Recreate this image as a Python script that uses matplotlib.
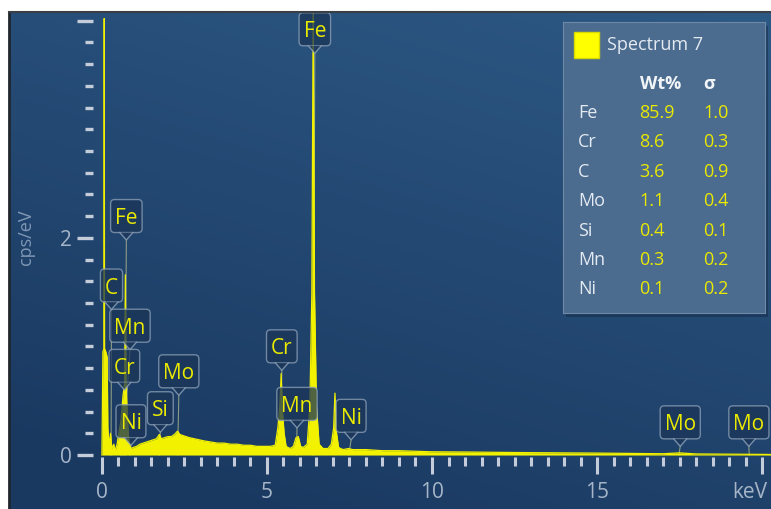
import numpy as np
import matplotlib.pyplot as plt
import matplotlib.transforms as mtransforms
from matplotlib.patches import Rectangle, Polygon, FancyBboxPatch
from matplotlib.lines import Line2D
from matplotlib.colors import to_rgb

plt.rcParams['font.family'] = ['Open Sans', 'DejaVu Sans']

# EDS spectrum, read point by point (keV, cps/eV)
energy = [0.00, 0.01, 0.03, 0.06, 0.07, 0.08, 0.12, 0.16, 0.18, 0.22, 0.26, 0.30,
          0.36, 0.40, 0.46, 0.52, 0.58, 0.64, 0.69, 0.71, 0.73, 0.78, 0.82, 0.88,
          0.95, 1.05, 1.15, 1.25, 1.35, 1.45, 1.55, 1.65, 1.74, 1.80, 1.90, 2.00,
          2.10, 2.20, 2.29, 2.36, 2.45, 2.55, 2.65, 2.80, 2.95, 3.10, 3.30, 3.50,
          3.70, 3.90, 4.10, 4.30, 4.50, 4.70, 4.90, 5.10, 5.25, 5.33, 5.39, 5.43,
          5.47, 5.52, 5.58, 5.70, 5.80, 5.88, 5.95, 6.02, 6.10, 6.22, 6.30, 6.36,
          6.40, 6.44, 6.50, 6.58, 6.70, 6.85, 6.95, 7.02, 7.06, 7.10, 7.17, 7.30,
          7.47, 7.60, 8.00, 8.50, 9.00, 9.50, 10.0, 11.0, 12.0, 13.0, 14.0, 15.0,
          16.0, 17.0, 17.5, 18.0, 19.0, 20.0, 20.3]
cps = [0.00, 0.30, 0.95, 0.98, 4.02, 0.98, 0.95, 0.90, 0.25, 0.08, 0.20, 0.06,
       0.10, 0.04, 0.10, 0.22, 0.32, 0.55, 0.66, 1.66, 0.66, 0.30, 0.12, 0.06,
       0.07, 0.08, 0.10, 0.11, 0.12, 0.13, 0.14, 0.15, 0.19, 0.15, 0.16, 0.17,
       0.17, 0.19, 0.22, 0.19, 0.18, 0.17, 0.16, 0.15, 0.14, 0.13, 0.12, 0.11,
       0.11, 0.10, 0.10, 0.09, 0.09, 0.08, 0.08, 0.08, 0.09, 0.25, 0.45, 0.75,
       0.40, 0.20, 0.08, 0.06, 0.08, 0.16, 0.17, 0.08, 0.07, 0.10, 0.45, 1.50,
       4.10, 1.50, 0.45, 0.10, 0.06, 0.06, 0.10, 0.25, 0.57, 0.22, 0.07, 0.05,
       0.06, 0.05, 0.05, 0.04, 0.04, 0.035, 0.03, 0.028, 0.025, 0.022, 0.02, 0.018,
       0.015, 0.012, 0.02, 0.01, 0.008, 0.006, 0.005]

# peak identification labels
peak_labels = ['Fe', 'Fe', 'C', 'Mn', 'Cr', 'Ni', 'Si', 'Mo', 'Cr', 'Mn', 'Ni', 'Mo', 'Mo']
peak_energy = [6.40, 0.705, 0.277, 0.637, 0.573, 0.851, 1.740, 2.293, 5.414, 5.899,
               7.478, 17.48, 19.61]
# label placement: box centre (keV) and tip of the pointer (cps/eV)
label_x = [6.45, 0.74, 0.29, 0.85, 0.68, 0.88, 1.77, 2.33, 5.45, 5.91, 7.55, 17.52, 19.60]
label_y = [3.70, 1.98, 1.34, 0.97, 0.60, 0.09, 0.21, 0.55, 0.78, 0.25, 0.14, 0.08, 0.08]

# quantification result
elements = ['Fe', 'Cr', 'C', 'Mo', 'Si', 'Mn', 'Ni']
wt_pct = [85.9, 8.6, 3.6, 1.1, 0.4, 0.3, 0.1]
sigma = [1.0, 0.3, 0.9, 0.4, 0.1, 0.2, 0.2]

yellow = '#f2f200'
tick_col = '#c3ccd8'
text_col = '#a6b5c8'

fig = plt.figure(figsize=(7.71, 5.09), dpi=100, facecolor='white')
renderer = fig.canvas.get_renderer()

# panel background gradient
bg = fig.add_axes([9 / 771, 0, 762 / 771, 497 / 509], zorder=-2)
xx, yy = np.meshgrid(np.linspace(0, 1, 200), np.linspace(0, 1, 150))
t = np.clip(0.75 * (1 - yy) + 0.35 * xx - 0.1, 0, 1)[..., None]
dark, light = np.array(to_rgb('#1a3961')), np.array(to_rgb('#2d5985'))
bg.imshow(dark + t * (light - dark), aspect='auto', extent=[0, 1, 0, 1])
bg.set_axis_off()
fig.add_artist(Line2D([9 / 771, 9 / 771], [0, 497 / 509], color='#20262d', lw=2))
fig.add_artist(Line2D([9 / 771, 1], [497 / 509, 497 / 509], color='#3a3f45', lw=1.5))

ax = fig.add_axes([93 / 771, 52 / 509, 678 / 771, 445 / 509])
ax.set_facecolor('none')
for s in ax.spines.values():
    s.set_visible(False)
ax.set_xlim(-0.27, 20.27)
ax.set_ylim(-0.018, 4.08)

# stems from the labels down to the peaks
for lx, ly, e in zip(label_x, label_y, peak_energy):
    ax.plot([lx, e], [ly, 0], color='#a9b38a', lw=0.8, alpha=0.8, zorder=1)

ax.fill_between(energy, cps, 0, color=yellow, lw=0, zorder=2)
ax.plot(energy, cps, color=yellow, lw=0.9, zorder=2)

# callout boxes: rounded box on top of a small pointer (sizes in inches)
box_fc = '#1b3557'
box_ec = '#8ea2b8'
notch_h, notch_w, box_h = 0.075, 0.065, 0.33
for txt, lx, ly in zip(peak_labels, label_x, label_y):
    tr = fig.dpi_scale_trans + mtransforms.ScaledTranslation(lx, ly, ax.transData)
    off = mtransforms.offset_copy(ax.transData, fig=fig, x=0,
                                  y=(notch_h + box_h / 2) * 72, units='points')
    lab = ax.text(lx, ly, txt, transform=off, ha='center', va='center_baseline',
                  fontsize=15, color='#eaea00', zorder=4, clip_on=False)
    w = lab.get_window_extent(renderer).width / fig.dpi + 0.09
    ax.add_patch(FancyBboxPatch((-w / 2, notch_h), w, box_h,
                                boxstyle='round,pad=0,rounding_size=0.04',
                                transform=tr, fc=box_fc, ec=box_ec, lw=1,
                                alpha=0.75, zorder=3, clip_on=False))
    ax.add_patch(Polygon([(-notch_w, notch_h), (0, 0), (notch_w, notch_h)],
                         closed=True, transform=tr, fc=box_fc, ec='none',
                         alpha=0.75, zorder=3, clip_on=False))
    ax.add_line(Line2D([-notch_w, 0, notch_w], [notch_h, 0, notch_h], transform=tr,
                       color=box_ec, lw=1, alpha=0.8, zorder=3, clip_on=False))

# axes ticks
ax.set_xticks([0, 5, 10, 15, 20])
ax.set_xticklabels(['0', '5', '10', '15', 'keV'])
ax.set_xticks(np.arange(0, 20.01, 0.5), minor=True)
ax.set_yticks([0, 2, 4])
ax.set_yticklabels(['0', '2', ''])
ax.set_yticks(np.arange(0, 4.01, 0.2), minor=True)
ax.tick_params(axis='x', which='major', length=12, width=2.2, pad=6)
ax.tick_params(axis='x', which='minor', length=6.5, width=2.2)
ax.tick_params(axis='y', which='major', length=11.5, width=2.4, pad=4)
ax.tick_params(axis='y', which='minor', length=5.8, width=2.4)
ax.tick_params(which='both', color=tick_col, labelcolor=text_col, labelsize=15)
kev = ax.get_xticklabels()[-1]
kev.set_horizontalalignment('right')
kev.set_transform(kev.get_transform()
                  + mtransforms.ScaledTranslation(0.05, 0, fig.dpi_scale_trans))
ax.set_ylabel('cps/eV', color='#8198b4', fontsize=13)
ax.yaxis.set_label_coords(-0.0855, 0.494)

# quantification panel
fig.add_artist(Rectangle((566 / 771, (509 - 317) / 509), 202 / 771, 291 / 509,
                         transform=fig.transFigure, fc='#132a45', alpha=0.5, zorder=4))
lg = fig.add_axes([563 / 771, (509 - 313) / 509, 202 / 771, 291 / 509], zorder=5)
lg.set_xlim(0, 202)
lg.set_ylim(291, 0)
lg.set_facecolor('#4b6b8f')
for s in lg.spines.values():
    s.set_color('#6f89a6')
lg.set_xticks([])
lg.set_yticks([])
lg.add_patch(Rectangle((11, 10), 25, 26, fc='#ffff00', ec='#d8d800', lw=1))
lg.text(44, 23, 'Spectrum 7', color='#e4eaf1', fontsize=13, va='center')
lg.text(77, 62, 'Wt%', color='#f2f5f8', fontsize=13, fontweight='bold', va='center')
lg.text(140, 62, 'σ', color='#f2f5f8', fontsize=13, fontweight='bold', va='center')
for i, (el, w, sg) in enumerate(zip(elements, wt_pct, sigma)):
    yrow = 91 + i * 29.4
    lg.text(15, yrow, el, color='#e4eaf1', fontsize=13, va='center')
    lg.text(76, yrow, f'{w:.1f}', color='#eaea00', fontsize=13, va='center')
    lg.text(140, yrow, f'{sg:.1f}', color='#eaea00', fontsize=13, va='center')

fig.savefig('out.png', dpi=100, facecolor='white')
